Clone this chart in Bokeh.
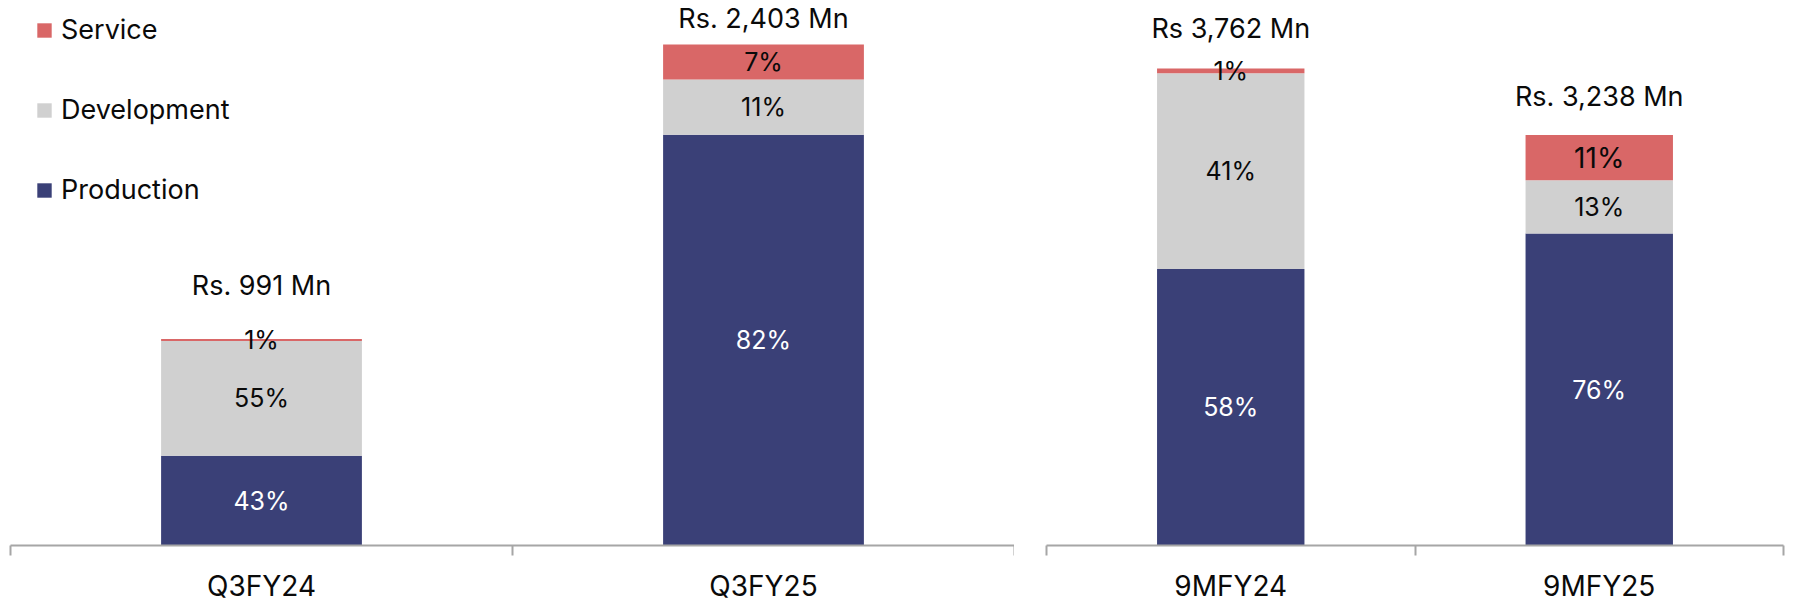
from bokeh.plotting import figure
from bokeh.models import (ColumnDataSource, Range1d, FixedTicker, Legend, LegendItem,
                          CustomJSTickFormatter)
from bokeh.layouts import row
from bokeh.embed import file_html
from bokeh.resources import INLINE
from bokeh.core.properties import value

# ---------------- data ----------------
left_categories = ["Q3FY24", "Q3FY25"]
left_totals = [991, 2403]
left_total_labels = ["Rs. 991 Mn", "Rs. 2,403 Mn"]
left_production_pct = [43, 82]
left_development_pct = [55, 11]
left_service_pct = [1, 7]

right_categories = ["9MFY24", "9MFY25"]
right_totals = [3762, 3238]
right_total_labels = ["Rs 3,762 Mn", "Rs. 3,238 Mn"]
right_production_pct = [58, 76]
right_development_pct = [41, 13]
right_service_pct = [1, 11]

series_names = ["Production", "Development", "Service"]

# ---------------- style ----------------
FONT = "Inter"
COLORS = {"Production": "#3A4077", "Development": "#D0D0D0", "Service": "#D96767"}
LABEL_COLORS = {"Production": "white", "Development": "#0A0A0A", "Service": "#0A0A0A"}
AXIS_COLOR = "#A6A6A6"
FIG_H = 605
FRAME_H = 546


def make_panel(categories, totals, total_labels, prod, dev, serv, y_end,
               frame_w, border_left, border_right, total_offsets, pct_sizes,
               legend=False):
    n = len(categories)
    xs = [i + 0.5 for i in range(n)]
    pcts = {"Production": prod, "Development": dev, "Service": serv}
    data = {"x": xs, "cat": categories}
    for s in series_names:
        data[s] = [totals[i] * pcts[s][i] / (prod[i] + dev[i] + serv[i]) for i in range(n)]
    src = ColumnDataSource(data)

    p = figure(width=border_left + frame_w + border_right, height=FIG_H,
               x_range=Range1d(0, n), y_range=Range1d(0, y_end),
               output_backend="svg", toolbar_location=None, y_axis_location=None,
               min_border_left=border_left, min_border_right=border_right,
               min_border_top=0, min_border_bottom=FIG_H - FRAME_H)
    p.outline_line_color = None
    p.grid.visible = False
    p.background_fill_color = "white"
    p.border_fill_color = "white"

    renderers = p.vbar_stack(series_names, x="x", width=0.4, source=src,
                             color=[COLORS[s] for s in series_names], line_width=0)

    # segment labels
    lx, ly, lt, lc, ls = [], [], [], [], []
    for i in range(n):
        base = 0.0
        for s in series_names:
            v = data[s][i]
            lx.append(xs[i]); ly.append(base + v / 2)
            lt.append(f"{pcts[s][i]}%"); lc.append(LABEL_COLORS[s])
            ls.append(pct_sizes.get((i, s), "25px"))
            base += v
    lsrc = ColumnDataSource(dict(x=lx, y=ly, t=lt, c=lc, s=ls))
    p.text(x="x", y="y", text="t", source=lsrc, text_color="c", text_font_size="s",
           text_font=value(FONT), text_align="center", text_baseline="middle")

    # total labels
    tsrc = ColumnDataSource(dict(x=xs, y=totals, t=total_labels, off=total_offsets))
    p.text(x="x", y="y", text="t", source=tsrc, y_offset="off",
           text_font=value(FONT), text_font_size="27px", text_color="#0A0A0A",
           text_align="center", text_baseline="alphabetic")

    ax = p.xaxis[0]
    ax.ticker = FixedTicker(ticks=xs, minor_ticks=list(range(n + 1)))
    ax.formatter = CustomJSTickFormatter(args=dict(cats=categories),
                                         code="return cats[Math.floor(tick)];")
    ax.axis_line_color = AXIS_COLOR
    ax.axis_line_width = 2
    ax.major_tick_out = 0
    ax.major_tick_in = 0
    ax.minor_tick_out = 10
    ax.minor_tick_in = 0
    ax.minor_tick_line_color = AXIS_COLOR
    ax.minor_tick_line_width = 2
    ax.major_label_text_font = FONT
    ax.major_label_text_font_size = "28px"
    ax.major_label_text_color = "#0A0A0A"
    ax.major_label_standoff = 13

    if legend:
        items = [LegendItem(label=s, renderers=[r]) for s, r in
                 zip(series_names[::-1], renderers[::-1])]
        lg = Legend(items=items, location=(25, 339), orientation="vertical",
                    glyph_width=18, glyph_height=18, label_standoff=8,
                    label_text_font=FONT, label_text_font_size="27px",
                    label_text_color="#0A0A0A", spacing=47, padding=0, margin=0,
                    border_line_alpha=0, background_fill_alpha=0)
        p.add_layout(lg)
    return p


left = make_panel(left_categories, left_totals, left_total_labels,
                  left_production_pct, left_development_pct, left_service_pct,
                  y_end=2614, frame_w=1004, border_left=10, border_right=0,
                  total_offsets=[-53, -26], pct_sizes={}, legend=True)
right = make_panel(right_categories, right_totals, right_total_labels,
                   right_production_pct, right_development_pct, right_service_pct,
                   y_end=4299, frame_w=737, border_left=32, border_right=14,
                   total_offsets=[-40, -39], pct_sizes={(1, "Service"): "28px"})

layout = row(left, right, spacing=0)
open("out.html", "w").write(file_html(layout, INLINE))
